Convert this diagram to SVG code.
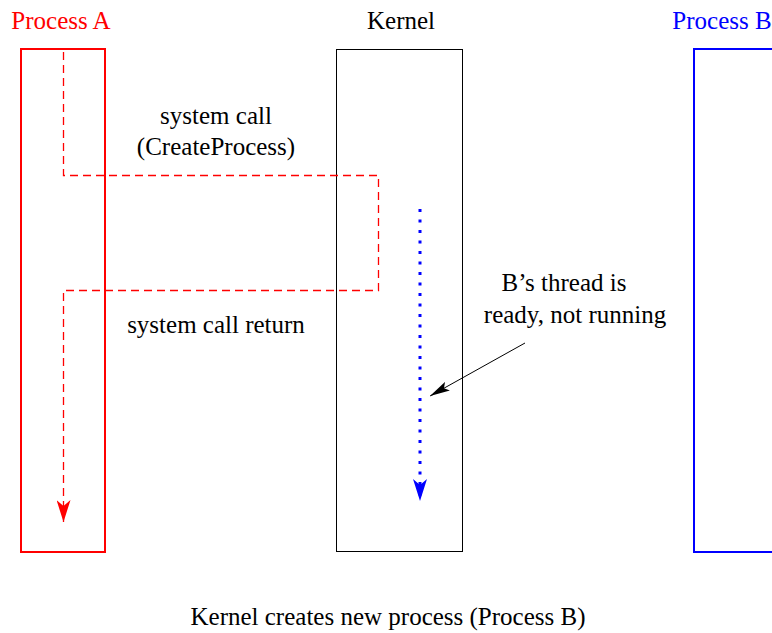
<svg xmlns="http://www.w3.org/2000/svg" width="772" height="633" viewBox="0 0 772 633">
<style>
text { font-family: "Liberation Serif", "Times New Roman", serif; font-size: 25px; }
.red { fill: #ff0000; }
.blue { fill: #0000ff; }
.blk { fill: #000; }
</style>
<defs>
<marker id="redHead" viewBox="0 0 22 14" refX="22" refY="7" markerWidth="22" markerHeight="14" markerUnits="userSpaceOnUse" orient="auto">
<path d="M0,0 L6,7 L0,14 L22,7 Z" fill="#ff0000"/>
</marker>
<marker id="blueHead" viewBox="0 0 22 14" refX="22" refY="7" markerWidth="22" markerHeight="14" markerUnits="userSpaceOnUse" orient="auto">
<path d="M0,0 L6,7 L0,14 L22,7 Z" fill="#0000ff"/>
</marker>
<marker id="blackHead" viewBox="0 0 20 10" refX="20" refY="5" markerWidth="20" markerHeight="10" markerUnits="userSpaceOnUse" orient="auto">
<path d="M0,0 L20,5 L0,10 L4,5 Z" fill="#000"/>
</marker>
</defs>
<rect width="772" height="633" fill="#fff"/>
<g id="processA">
<rect x="21" y="49" width="84" height="503" fill="none" stroke="#ff0000" stroke-width="2"/>
<text x="61" y="29" text-anchor="middle" class="red">Process A</text>
</g>
<g id="kernel">
<rect x="336.5" y="49.5" width="126" height="502" fill="none" stroke="#000" stroke-width="1"/>
<text x="401" y="29" text-anchor="middle" class="blk">Kernel</text>
</g>
<g id="processB">
<rect x="694" y="49" width="100" height="503" fill="none" stroke="#0000ff" stroke-width="2"/>
<text x="722" y="29" text-anchor="middle" class="blue">Process B</text>
</g>
<g id="connectors">
<path d="M63.5,52 V175.5 H378.5 V290.5 H63.5 V522" fill="none" stroke="#ff0000" stroke-width="1.3" stroke-dasharray="8,5" marker-end="url(#redHead)"/>
<path d="M420,209 V501" fill="none" stroke="#0000ff" stroke-width="3" stroke-dasharray="3,7.5" marker-end="url(#blueHead)"/>
<path d="M525,343 L430,396" fill="none" stroke="#000" stroke-width="1" marker-end="url(#blackHead)"/>
</g>
<g id="labels">
<text x="216" y="124" text-anchor="middle" class="blk">system call</text>
<text x="216" y="155" text-anchor="middle" class="blk">(CreateProcess)</text>
<text x="216" y="333" text-anchor="middle" class="blk">system call return</text>
<text x="564" y="291" text-anchor="middle" class="blk">B’s thread is</text>
<text x="575" y="323" text-anchor="middle" class="blk">ready, not running</text>
<text x="388" y="625" text-anchor="middle" class="blk">Kernel creates new process (Process B)</text>
</g>
</svg>
